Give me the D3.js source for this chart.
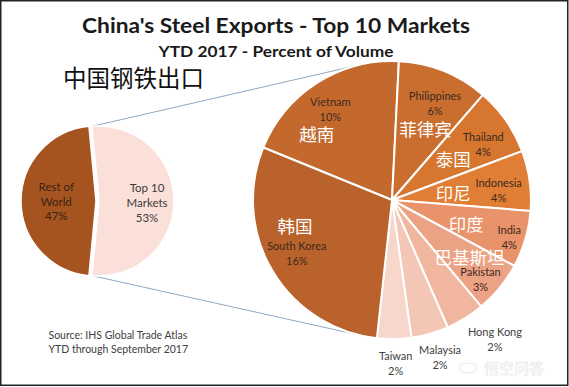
<!DOCTYPE html>
<html><head><meta charset="utf-8">
<script src="https://cdn.jsdelivr.net/npm/d3@7"></script>
<style>body{margin:0;background:#fff}</style>
</head><body><svg id="c" width="569" height="387"></svg>
<script>
// ---------- data ----------
const overviewNames = [["Top 10","Markets"],["Rest of","World"]];
const overviewValues = [53, 47];
const markets = ["Vietnam","Philippines","Thailand","Indonesia","India","Pakistan","Hong Kong","Malaysia","Taiwan","South Korea"];
const marketsZh = ["越南","菲律宾","泰国","印尼","印度","巴基斯坦","","","","韩国"];
const marketValues = [10.4,5.6,4.2,3.7,3.5,3.2,2.4,2.3,2.1,15.6];
const titleText = "China's Steel Exports - Top 10 Markets";
const subtitleText = "YTD 2017 - Percent of Volume";
const zhTitle = "中国钢铁出口";
const sourceLines = ["Source: IHS Global Trade Atlas","YTD through September 2017"];

// ---------- styles / layout ----------
const overviewColors = ["#fbe0da","#a5531f"];
const marketColors = ["#c4692e","#ca6e2f","#d6762f","#e07e35","#e8936a","#eca385","#f0b69e","#f3c6b5","#f7d6cb","#b9622b"];
const labelR  = [0.79,0.765,0.77,0.77,0.885,0.855,1.245,1.18,1.17,0.785];
const labelDA = [-1.7,2,3.3,2.9,1.2,2.7,-4.7,-1.2,-0.4,1.5];
const zhR  = [0.72,0.57,0.53,0.445,0.56,0.69,0,0,0,0.72];
const zhDA = [-16.2,3.2,1,0.6,0.8,-3.2,0,0,0,16.3];
const inside = [true,true,true,true,true,true,false,false,false,true];

const svg = d3.select("#c");
const rad = d => d*Math.PI/180;
const polar = (cx,cy,r,a) => [cx + r*Math.sin(a), cy - r*Math.cos(a)];
const LATIN = "Lato, 'Open Sans', sans-serif";
const CJK = "'Noto Sans CJK SC', sans-serif";

svg.append("rect").attr("width",569).attr("height",387).attr("fill","#fff");

function fit(t, w){
  t.attr("textLength", w).attr("lengthAdjust","spacingAndGlyphs");
}

// titles
fit(svg.append("text").attr("x",276).attr("y",32.5).attr("text-anchor","middle")
  .attr("font-family",LATIN).attr("font-weight","bold").attr("font-size",21.5).attr("fill","#1a1a1a")
  .text(titleText), 388);
fit(svg.append("text").attr("x",276).attr("y",56.5).attr("text-anchor","middle")
  .attr("font-family",LATIN).attr("font-weight","bold").attr("font-size",15).attr("fill","#1a1a1a")
  .text(subtitleText), 235);
svg.append("text").attr("x",63).attr("y",77).attr("dominant-baseline","central")
  .attr("font-family",CJK).attr("font-size",23.5).attr("fill","#111").text(zhTitle);

// geometry
const S = {cx:96, cy:201, r:75, explode:3};
const B = {cx:392, cy:200, r:139};

// overview pie
const span = overviewValues[0]/d3.sum(overviewValues)*2*Math.PI;
const pie1 = d3.pie().sort(null).startAngle(Math.PI/2 - span/2).endAngle(Math.PI/2 - span/2 + 2*Math.PI);
const arcs1 = pie1(overviewValues);
const arc1 = d3.arc().innerRadius(0).outerRadius(S.r);
const offs = arcs1.map((d,i) => {
  const m = (d.startAngle+d.endAngle)/2;
  return i===0 ? polar(0,0,S.explode,m) : [0,0];
});

// connector lines (tangent to big pie)
const top10 = arcs1[0];
const pTop = polar(S.cx+offs[0][0], S.cy+offs[0][1], S.r, top10.startAngle);
const pBot = polar(S.cx+offs[0][0], S.cy+offs[0][1], S.r, top10.endAngle);
function tangent(p, upper){
  const dx = p[0]-B.cx, dy = p[1]-B.cy, d = Math.hypot(dx,dy);
  const phi = Math.atan2(dy,dx), a = Math.acos(B.r/d);
  const t1 = [B.cx + B.r*Math.cos(phi+a), B.cy + B.r*Math.sin(phi+a)];
  const t2 = [B.cx + B.r*Math.cos(phi-a), B.cy + B.r*Math.sin(phi-a)];
  return upper ? (t1[1]<t2[1]?t1:t2) : (t1[1]>t2[1]?t1:t2);
}
[[pTop,tangent(pTop,true)],[pBot,tangent(pBot,false)]].forEach(([a,b])=>{
  svg.append("line").attr("x1",a[0]).attr("y1",a[1]).attr("x2",b[0]).attr("y2",b[1])
    .attr("stroke","#8fa9c2").attr("stroke-width",1);
});

const g1 = svg.append("g").attr("transform",`translate(${S.cx},${S.cy})`);
g1.selectAll("path").data(arcs1).join("path")
  .attr("transform",(d,i)=>`translate(${offs[i][0]},${offs[i][1]})`)
  .attr("d",arc1).attr("fill",(d,i)=>overviewColors[i])
  .attr("stroke","#fff").attr("stroke-width",1.5);
const ovR = [0.64, 0.53];
arcs1.forEach((d,i)=>{
  const m = (d.startAngle+d.endAngle)/2;
  const p = polar(offs[i][0], offs[i][1], S.r*ovR[i], m);
  const lines = [...overviewNames[i], Math.round(overviewValues[i])+"%"];
  lines.forEach((s,k)=>{
    g1.append("text").attr("x",p[0]).attr("y",p[1]+(k-1)*14.8+(i===0?1.5:0))
      .attr("text-anchor","middle").attr("dominant-baseline","central")
      .attr("font-family",LATIN).attr("font-size",11.5)
      .attr("fill", i===0 ? "#3a3a3a" : "#3a2414").text(s);
  });
});

// market pie
const startA = rad(-67.8);
const pie2 = d3.pie().sort(null).startAngle(startA).endAngle(startA+2*Math.PI);
const arcs2 = pie2(marketValues);
const arc2 = d3.arc().innerRadius(0).outerRadius(B.r);
const g2 = svg.append("g").attr("transform",`translate(${B.cx},${B.cy})`);
g2.selectAll("path").data(arcs2).join("path")
  .attr("d",arc2).attr("fill",(d,i)=>marketColors[i])
  .attr("stroke","#fff").attr("stroke-width",2).attr("stroke-linejoin","round");

arcs2.forEach((d,i)=>{
  const m = (d.startAngle+d.endAngle)/2;
  const p = polar(0,0,B.r*labelR[i], m+rad(labelDA[i]));
  const col = inside[i] ? "#3b2a1f" : "#404040";
  [markets[i], Math.round(d.data)+"%"].forEach((s,k)=>{
    g2.append("text").attr("x",p[0]).attr("y",p[1]+(k-0.5)*15)
      .attr("text-anchor","middle").attr("dominant-baseline","central")
      .attr("font-family",LATIN).attr("font-size",11).attr("fill",col).text(s);
  });
  if (marketsZh[i]) {
    const q = polar(0,0,B.r*zhR[i], m+rad(zhDA[i]));
    g2.append("text").attr("x",q[0]).attr("y",q[1])
      .attr("text-anchor","middle").attr("dominant-baseline","central")
      .attr("font-family",CJK).attr("font-size",17.5).attr("fill","#fff").text(marketsZh[i]);
  }
});

// source
sourceLines.forEach((s,k)=>{
  svg.append("text").attr("x",48.5).attr("y",335+k*14.3).attr("dominant-baseline","central")
    .attr("font-family",LATIN).attr("font-size",10.5).attr("fill","#404040").text(s);
});

// watermark (faint)
svg.append("text").attr("x",484).attr("y",367).attr("dominant-baseline","central")
  .attr("font-family",CJK).attr("font-size",15).attr("fill","#fafafa")
  .attr("stroke","#ebebeb").attr("stroke-width",0.6).text("悟空问答");
svg.append("ellipse").attr("cx",468).attr("cy",368).attr("rx",9).attr("ry",5)
  .attr("fill","none").attr("stroke","#ebebeb").attr("stroke-width",1.2);

// border
svg.append("rect").attr("x",0.75).attr("y",0.75).attr("width",567).attr("height",384.5)
  .attr("fill","none").attr("stroke","#222").attr("stroke-width",1.5);
</script></body></html>
